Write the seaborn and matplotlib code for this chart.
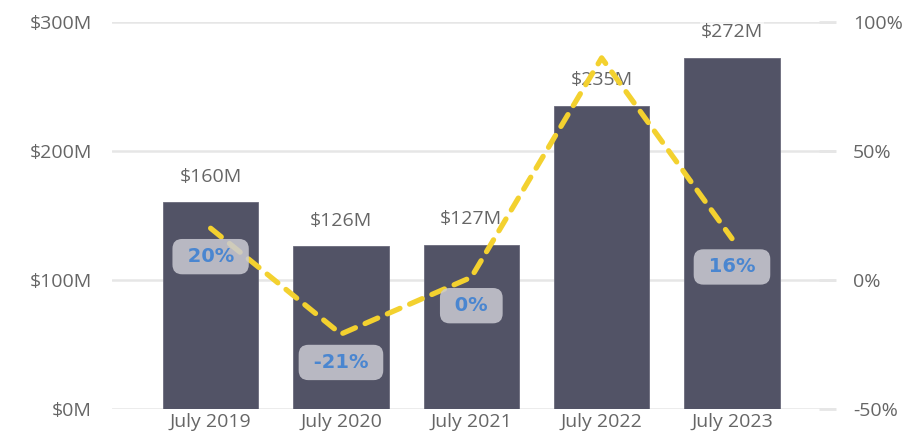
import matplotlib
matplotlib.use("Agg")
import matplotlib.pyplot as plt
import seaborn as sns
import pandas as pd

categories = ["July 2019", "July 2020", "July 2021", "July 2022", "July 2023"]
revenue_m = [160, 126, 127, 235, 272]
growth_pct = [20, -21, 1, 86, 16]
growth_labels = ["20%", "-21%", "0%", "", "16%"]
revenue_labels = ["$160M", "$126M", "$127M", "$235M", "$272M"]
left_ticks = [0, 100, 200, 300]
left_tick_labels = ["$0M", "$100M", "$200M", "$300M"]
right_ticks = [-50, 0, 50, 100]
right_tick_labels = ["-50%", "0%", "50%", "100%"]

sns.set_theme(style="white")
plt.rcParams['font.family'] = ['Open Sans', 'DejaVu Sans']

df = pd.DataFrame({"month": categories, "revenue": revenue_m, "growth": growth_pct})

fig = plt.figure(figsize=(9.22, 4.44), dpi=100)
ax = fig.add_axes([0.121, 0.079, 0.786, 0.872])
sns.barplot(data=df, x="month", y="revenue", color="#525366", width=0.73,
            saturation=1, ax=ax, zorder=2, edgecolor="#6a6b7c", linewidth=0.6)
ax.set_ylim(0, 300)
ax.set_xlim(-0.76, 4.8)
ax.set_yticks(left_ticks)
ax.set_yticklabels(left_tick_labels)
ax.yaxis.grid(True, color="#e6e6e6", linewidth=1.8, zorder=0)
ax.set_axisbelow(True)
for s in ax.spines.values():
    s.set_visible(False)
ax.set_xlabel("")
ax.set_ylabel("")
ax.tick_params(axis="both", length=0, labelsize=14, labelcolor="#666666")
ax.tick_params(axis="y", pad=14)
ax.tick_params(axis="x", pad=3)

for i, (v, lab) in enumerate(zip(revenue_m, revenue_labels)):
    ax.text(i, v + 13, lab, ha="center", va="bottom", fontsize=14, color="#666666",
            zorder=6, bbox=dict(boxstyle="square,pad=0.05", fc="white", ec="none", alpha=0.6))

ax2 = ax.twinx()
ax2.set_ylim(-50, 100)
ax2.set_yticks(right_ticks)
ax2.set_yticklabels(right_tick_labels)
for s in ax2.spines.values():
    s.set_visible(False)
ax2.tick_params(axis="y", length=12, width=2, color="#e6e6e6", labelsize=14,
                labelcolor="#666666", pad=12, direction="in")
sns.lineplot(x=list(range(len(categories))), y=growth_pct, ax=ax2, color="#f3d12f",
             linewidth=3.8, linestyle=(0, (2.6, 2.0)), zorder=3)
ax2.lines[0].set_dash_capstyle("round")
ax2.lines[0].set_solid_joinstyle("round")
ax2.lines[0].set_dash_joinstyle("round")

for i, (g, lab) in enumerate(zip(growth_pct, growth_labels)):
    if lab:
        ax2.text(i, g - 11, " " + lab + " ", ha="center", va="center", fontsize=14,
                 fontweight="bold", family=["DejaVu Sans"], color="#4a86d0", zorder=7,
                 bbox=dict(boxstyle="round,pad=0.42,rounding_size=0.5", fc="#cacad2",
                           ec="none", alpha=0.86))

fig.savefig("out.png", dpi=100)
